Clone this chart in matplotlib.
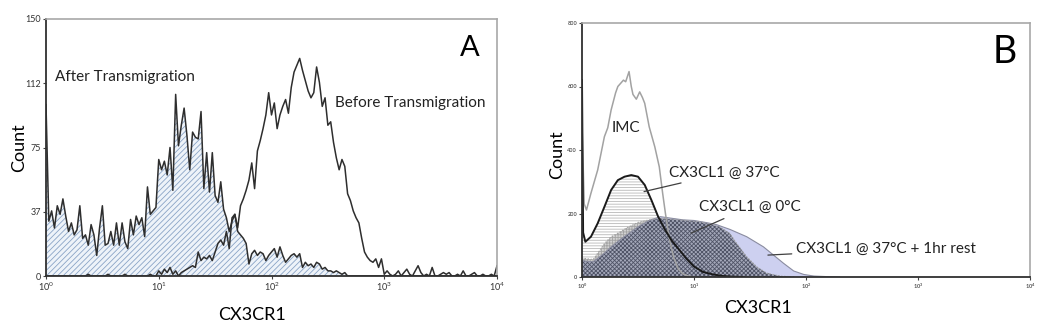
import numpy as np
import matplotlib
matplotlib.use('Agg')
from matplotlib import pyplot as plt

plt.rcParams['font.family'] = ['Lato', 'DejaVu Sans']
plt.rcParams['hatch.linewidth'] = 0.6

# Panel A: channel grid in decades (log10 of CX3CR1), step 1/40
a_log = np.arange(0, 161) / 40.0

after_counts = [
    100, 32, 38, 28, 41, 36, 45, 35, 26, 31,
    24, 27, 41, 22, 24, 18, 30, 24, 12, 28,
    41, 18, 19, 26, 18, 31, 18, 31, 20, 16,
    33, 24, 35, 30, 34, 23, 52, 36, 38, 40,
    68, 62, 67, 59, 75, 50, 106, 76, 88, 98,
    82, 62, 84, 81, 80, 96, 51, 72, 49, 72,
    47, 43, 55, 39, 34, 26, 32, 36, 26, 24,
    22, 19, 7, 13, 15, 12, 14, 13, 9, 12,
    14, 16, 11, 17, 12, 8, 10, 12, 13, 11,
    13, 5, 8, 6, 7, 5, 8, 7, 4, 5,
    3, 3, 2, 3, 2, 1, 2, 0, 0, 0,
] + [0] * 51

before_counts = [
    0, 0, 0, 0, 0, 0, 0, 0, 0, 0,
    0, 0, 0, 0, 0, 1, 0, 0, 0, 0,
    0, 0, 1, 0, 0, 0, 0, 0, 1, 0,
    0, 0, 0, 0, 0, 0, 0, 1, 0, 0,
    3, 1, 4, 2, 5, 1, 3, 0, 2, 3,
    4, 5, 6, 5, 14, 9, 11, 10, 12, 9,
    14, 19, 21, 18, 26, 16, 34, 36, 28, 41,
    45, 50, 56, 66, 51, 73, 79, 86, 94, 107,
    94, 101, 86, 94, 99, 103, 95, 110, 119, 123,
    127, 120, 114, 108, 104, 107, 122, 113, 99, 104,
    88, 90, 78, 69, 62, 68, 64, 48, 44, 38,
    34, 31, 22, 14, 11, 9, 8, 10, 5, 10,
    1, 3, 1, 0, 1, 3, 0, 2, 4, 1,
    0, 3, 6, 2, 0, 1, 0, 5, 0, 0,
    1, 2, 1, 2, 0, 0, 1, 0, 3, 0,
    0, 1, 2, 0, 0, 1, 0, 0, 1, 0,
    6,
]

a_yticks = [0, 37.5, 75, 112.5, 150]
a_yticklabels = ['0', '37', '75', '112', '150']

# Panel B: (log10 position, count) pairs
imc_log = [0.0, 0.02, 0.04, 0.08, 0.14, 0.2, 0.23, 0.26, 0.3, 0.32, 0.35, 0.37,
           0.39, 0.42, 0.44, 0.455, 0.485, 0.515, 0.54, 0.56, 0.6, 0.65, 0.69,
           0.72, 0.745, 0.78, 0.82, 0.86, 0.9, 0.95, 1.0]
imc_counts = [480, 230, 211, 264, 337, 442, 470, 526, 580, 600, 612, 620,
              615, 647, 600, 575, 560, 583, 565, 547, 473, 410, 347,
              264, 200, 120, 60, 25, 10, 3, 0]

c37_log = [0.0, 0.01, 0.03, 0.08, 0.14, 0.2, 0.26, 0.32, 0.38, 0.44, 0.5,
           0.56, 0.62, 0.68, 0.74, 0.8, 0.87, 0.93, 1.0, 1.08, 1.17, 1.26,
           1.35, 1.45]
c37_counts = [620, 140, 111, 127, 169, 221, 274, 305, 316, 321, 316,
              290, 242, 190, 150, 115, 85, 59, 33, 16, 8, 3, 1, 0]

c0_log = [0.0, 0.03, 0.1, 0.2, 0.26, 0.33, 0.4, 0.5, 0.6, 0.7, 0.8, 0.875,
          0.95, 1.05, 1.15, 1.23, 1.32, 1.38, 1.47, 1.56, 1.65, 1.77, 1.9]
c0_counts = [60, 58, 55, 105, 127, 140, 155, 172, 180, 185, 182, 180,
             177, 174, 166, 158, 137, 106, 64, 32, 12, 3, 0]

rest_log = [0.0, 0.03, 0.1, 0.2, 0.26, 0.35, 0.5, 0.6, 0.7, 0.8, 0.9, 1.0,
            1.1, 1.2, 1.32, 1.47, 1.62, 1.71, 1.8, 1.89, 1.98, 2.07, 2.2, 2.3]
rest_counts = [52, 50, 48, 75, 95, 120, 158, 178, 190, 185, 180, 178,
               172, 165, 150, 127, 95, 69, 43, 19, 8, 3, 1, 0]

b_yticks = [0, 200, 400, 600, 800]


def style_axes(ax, tick_size, tick_color):
    ax.set_xscale('log')
    ax.set_xlim(1, 1e4)
    ax.set_xticks([1, 10, 100, 1000, 10000])
    ax.minorticks_off()
    for side in ['left', 'bottom']:
        ax.spines[side].set_color('#303030')
        ax.spines[side].set_linewidth(1.3)
    for side in ['top', 'right']:
        ax.spines[side].set_color('#a8a8a8')
        ax.spines[side].set_linewidth(1.2)
    ax.tick_params(length=2, width=0.8, pad=1.5, labelsize=tick_size,
                   labelcolor=tick_color, color='#404040')


fig = plt.figure(figsize=(10.5, 3.28), dpi=100)

# ---- Panel A
ax_a = fig.add_axes([46 / 1050, 52 / 328, 451 / 1050, 257 / 328])
a_x = 10 ** a_log
ax_a.fill_between(a_x, after_counts, facecolor='#eef3f9',
                  edgecolor='#8aa4c6', hatch='//////', linewidth=0)
ax_a.plot(a_x, after_counts, color='#2e2e2e', lw=1.1)
ax_a.plot(a_x, before_counts, color='#2e2e2e', lw=1.1)
style_axes(ax_a, 6.5, '#333333')
ax_a.set_ylim(0, 150)
ax_a.set_yticks(a_yticks)
ax_a.set_yticklabels(a_yticklabels)
ax_a.text(1.2, 116, 'After Transmigration', fontsize=11, va='center',
          color='#222222')
ax_a.text(366, 101, 'Before Transmigration', fontsize=11, va='center',
          color='#222222')
ax_a.text(5750, 133, 'A', fontsize=21, ha='center', va='center')
fig.text(19 / 1050, 1 - 148 / 328, 'Count', rotation=90, fontsize=13,
         ha='center', va='center')
fig.text(252 / 1050, 1 - 315 / 328, 'CX3CR1', fontsize=13,
         ha='center', va='center')

# ---- Panel B
ax_b = fig.add_axes([582 / 1050, 51 / 328, 448 / 1050, 254 / 328])
imc_x = 10 ** np.array(imc_log)
c37_x = 10 ** np.array(c37_log)
c0_x = 10 ** np.array(c0_log)
rest_x = 10 ** np.array(rest_log)

ax_b.fill_between(c37_x, c37_counts, facecolor='white', edgecolor='#b8b8b8',
                  hatch='------', linewidth=0)
ax_b.fill_between(rest_x, rest_counts, facecolor='#cdd0f0', linewidth=0)
ax_b.fill_between(c0_x, c0_counts, facecolor='#d2d2d2', edgecolor='#a4a4a4',
                  hatch='++++++', linewidth=0)
# overlap of the 0C and rest histograms
grid = np.linspace(0, 2.3, 400)
overlap = np.minimum(np.interp(grid, c0_log, c0_counts),
                     np.interp(grid, rest_log, rest_counts))
ax_b.fill_between(10 ** grid, overlap, facecolor='#a4a8ba',
                  edgecolor='#4f5366', hatch='xxxxxxxx', linewidth=0)
ax_b.plot(rest_x, rest_counts, color='#8a8ca0', lw=0.8)
ax_b.plot(c0_x, c0_counts, color='#a0a0a0', lw=0.8, ls=':')
ax_b.plot(imc_x, imc_counts, color='#a2a2a2', lw=1.1)
ax_b.plot(c37_x, c37_counts, color='#1a1a1a', lw=1.4)
style_axes(ax_b, 4, '#555555')
ax_b.set_ylim(0, 800)
ax_b.set_yticks(b_yticks)
for lab in ax_b.get_xticklabels() + ax_b.get_yticklabels():
    lab.set_fontweight('bold')

ax_b.text(1.85, 469, 'IMC', fontsize=11, va='center', color='#222222')
ax_b.annotate('CX3CL1 @ 37°C', xy=(10 ** 0.554, 269),
              xytext=(10 ** 0.777, 328), fontsize=11, va='center',
              color='#222222',
              arrowprops=dict(arrowstyle='-', color='#404040', lw=0.9,
                              shrinkA=1, shrinkB=0))
ax_b.annotate('CX3CL1 @ 0°C', xy=(10 ** 0.973, 138),
              xytext=(10 ** 1.045, 220), fontsize=11, va='center',
              color='#222222',
              arrowprops=dict(arrowstyle='-', color='#404040', lw=0.9,
                              shrinkA=3, shrinkB=0))
ax_b.annotate('CX3CL1 @ 37°C + 1hr rest', xy=(10 ** 1.66, 69),
              xytext=(10 ** 1.91, 88), fontsize=11, va='center',
              color='#222222',
              arrowprops=dict(arrowstyle='-', color='#404040', lw=0.9,
                              shrinkA=1, shrinkB=0))
ax_b.text(5980, 709, 'B', fontsize=27, ha='center', va='center')
fig.text(557 / 1050, 1 - 155 / 328, 'Count', rotation=90, fontsize=13,
         ha='center', va='center')
fig.text(758 / 1050, 1 - 308 / 328, 'CX3CR1', fontsize=13,
         ha='center', va='center')

fig.savefig('out.png', dpi=100)
